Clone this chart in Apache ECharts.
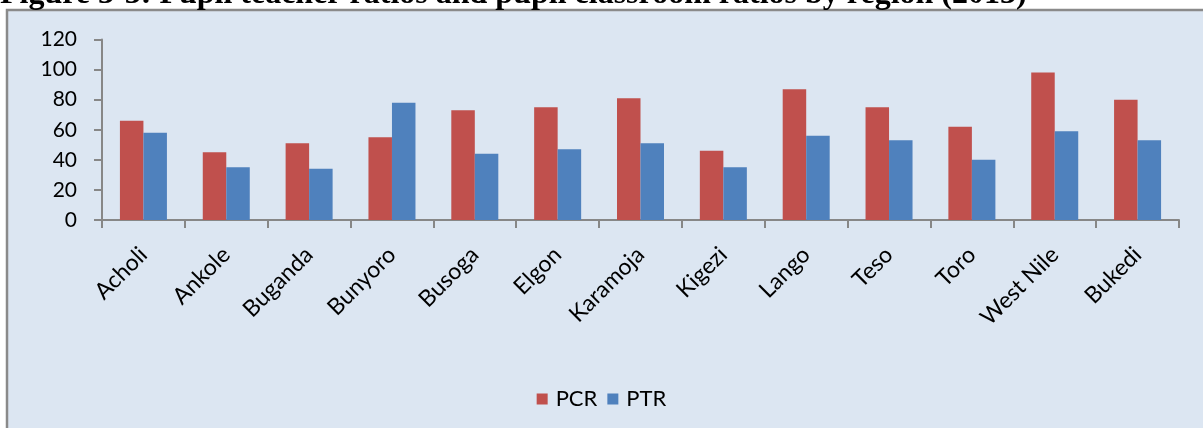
<!DOCTYPE html>
<html>
<head>
<meta charset="utf-8">
<script src="https://cdn.jsdelivr.net/npm/echarts@6/dist/echarts.min.js"></script>
<style>
  html, body { margin: 0; padding: 0; background: #ffffff; }
  #chart { width: 1203px; height: 428px; }
</style>
</head>
<body>
<div id="chart"></div>
<script>
// Regions and the two ratios per region
const regions = ['Acholi', 'Ankole', 'Buganda', 'Bunyoro', 'Busoga', 'Elgon', 'Karamoja',
                 'Kigezi', 'Lango', 'Teso', 'Toro', 'West Nile', 'Bukedi'];
const pcr = [66, 45, 51, 55, 73, 75, 81, 46, 87, 75, 62, 98, 80];
const ptr = [58, 35, 34, 78, 44, 47, 51, 35, 56, 53, 40, 59, 53];
const yTicks = { min: 0, max: 120, interval: 20 };
const titleText = 'Figure 3-3: Pupil teacher ratios and pupil classroom ratios by region (2013)';

const sans = 'Lato, "Open Sans", sans-serif';
const axisGrey = '#878787';

const chart = echarts.init(document.getElementById('chart'), null, { renderer: 'canvas' });
chart.setOption({
  backgroundColor: '#ffffff',
  animation: false,
  graphic: [
    {
      type: 'rect', z: -10, silent: true,
      shape: { x: 7, y: 10, width: 1400, height: 600 },
      style: { fill: '#DCE6F2', stroke: '#8a8a8a', lineWidth: 2.5 }
    },
    {
      type: 'text', z: 10, silent: true,
      style: {
        x: 0, y: 11,
        text: titleText,
        align: 'left', verticalAlign: 'bottom',
        font: 'bold 32px "Liberation Serif", "Times New Roman", serif',
        fill: '#000000'
      }
    }
  ],
  grid: { left: 102, right: 24, top: 39.5, bottom: 208, containLabel: false },
  legend: {
    data: ['PCR', 'PTR'],
    left: 'center',
    top: 383,
    itemWidth: 11, itemHeight: 11, itemGap: 10,
    icon: 'rect',
    textStyle: { fontFamily: sans, fontSize: 22, color: '#000', padding: [0, 0, 0, 3] }
  },
  xAxis: {
    type: 'category',
    data: regions,
    axisLine: { lineStyle: { color: axisGrey, width: 2 } },
    axisTick: { show: true, length: 8, lineStyle: { color: axisGrey, width: 2 } },
    axisLabel: { rotate: 45, margin: 31, interval: 0, fontFamily: sans, fontSize: 23, color: '#000' }
  },
  yAxis: {
    type: 'value',
    min: yTicks.min, max: yTicks.max, interval: yTicks.interval,
    splitLine: { show: false },
    axisLine: { show: true, lineStyle: { color: axisGrey, width: 2 } },
    axisTick: { show: true, length: 8, lineStyle: { color: axisGrey, width: 2 } },
    axisLabel: { margin: 25, fontFamily: sans, fontSize: 21, color: '#000' }
  },
  series: [
    { name: 'PCR', type: 'bar', data: pcr, barWidth: 23.5, barGap: '0%',
      itemStyle: { color: '#C0504D' } },
    { name: 'PTR', type: 'bar', data: ptr, barWidth: 23.5, barGap: '0%',
      itemStyle: { color: '#4F81BD' } }
  ]
});
</script>
</body>
</html>
